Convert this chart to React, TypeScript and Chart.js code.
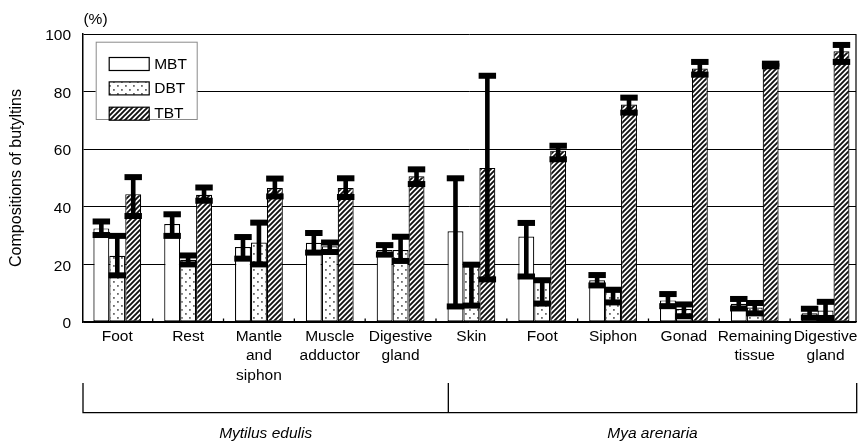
import React, { useEffect, useRef } from "react";
import { Chart, registerables } from "chart.js";

Chart.register(...registerables);

// ---------- data ----------
const categories: string[][] = [
  ["Foot"],
  ["Rest"],
  ["Mantle", "and", "siphon"],
  ["Muscle", "adductor"],
  ["Digestive", "gland"],
  ["Skin"],
  ["Foot"],
  ["Siphon"],
  ["Gonad"],
  ["Remaining", "tissue"],
  ["Digestive", "gland"],
];

const seriesNames = ["MBT", "DBT", "TBT"];

const mbt = [32.5, 34, 26, 27.5, 25, 31.5, 29.7, 14.5, 7.5, 6.3, 3];
const mbtHigh = [34.9, 37.4, 29.5, 30.9, 26.7, 49.9, 34.4, 16.3, 9.7, 8.0, 4.6];
const mbtLow = [30.2, 29.9, 22, 24.1, 23.4, 5.4, 15.8, 12.7, 5.5, 4.7, 1.5];

const dbt = [23, 21.6, 27.6, 26.3, 25, 20, 14.8, 10.6, 4.5, 5, 4];
const dbtHigh = [29.9, 23.1, 34.5, 27.6, 29.6, 19.9, 14.5, 11.2, 6.1, 6.6, 7];
const dbtLow = [16.2, 20, 20, 24.3, 21.2, 5.7, 6.4, 6.8, 2, 3, 1.4];

const tbt = [44.4, 44.2, 46.5, 46.5, 50.6, 53.5, 59.5, 75.5, 88, 89.2, 94];
const tbtHigh = [50.3, 46.7, 49.8, 49.9, 53, 85.5, 61.2, 77.9, 90.3, 89.7, 96.2];
const tbtLow = [36.8, 42.1, 43.6, 43.4, 47.9, 14.8, 56.5, 72.7, 85.9, 88.8, 90.3];

const yTickValues = [0, 20, 40, 60, 80, 100];
const groupNames = ["Mytilus edulis", "Mya arenaria"];
const groupSplitAt = 4.674; // position (in category units) of the bracket divider

const FONT = "'Liberation Sans', Arial, Helvetica, sans-serif";
const FS = 15.5;

function makeDots(): CanvasPattern | string {
  const c = document.createElement("canvas");
  c.width = 8;
  c.height = 8;
  const g = c.getContext("2d");
  if (!g) return "#fff";
  g.fillStyle = "#fff";
  g.fillRect(0, 0, 8, 8);
  g.fillStyle = "#6a6a6a";
  g.fillRect(1, 1, 1.8, 1.8);
  g.fillRect(5, 5, 1.8, 1.8);
  return g.createPattern(c, "repeat") || "#ddd";
}

function makeHatch(): CanvasPattern | string {
  const s = 5;
  const c = document.createElement("canvas");
  c.width = s;
  c.height = s;
  const g = c.getContext("2d");
  if (!g) return "#666";
  g.fillStyle = "#fff";
  g.fillRect(0, 0, s, s);
  g.strokeStyle = "#111";
  g.lineWidth = 1.9;
  g.beginPath();
  g.moveTo(-1, s + 1);
  g.lineTo(s + 1, -1);
  g.moveTo(-1, 1);
  g.lineTo(1, -1);
  g.moveTo(s - 1, s + 1);
  g.lineTo(s + 1, s - 1);
  g.stroke();
  return g.createPattern(c, "repeat") || "#666";
}

export default function App() {
  const ref = useRef<HTMLCanvasElement | null>(null);

  useEffect(() => {
    if (!ref.current) return;
    const dots = makeDots();
    const hatch = makeHatch();
    const fills = ["#ffffff", dots, hatch];
    const values = [mbt, dbt, tbt];
    const errs = [
      [mbtLow, mbtHigh],
      [dbtLow, dbtHigh],
      [tbtLow, tbtHigh],
    ];

    const decor = {
      id: "decor",
      afterDatasetsDraw(chart: any) {
        const { ctx, chartArea: ca, scales } = chart;
        const x = scales.x;
        const y = scales.y;
        ctx.save();
        // error bars
        ctx.fillStyle = "#000";
        errs.forEach((pair, d) => {
          const meta = chart.getDatasetMeta(d);
          meta.data.forEach((bar: any, i: number) => {
            const yh = y.getPixelForValue(pair[1][i]);
            const yl = y.getPixelForValue(pair[0][i]);
            const cx = bar.x;
            const w = bar.width + 1.5;
            ctx.fillRect(cx - 2.3, yh, 4.6, yl - yh);
            ctx.fillRect(cx - w / 2, yh - 3, w, 6);
            ctx.fillRect(cx - w / 2, yl - 3, w, 6);
          });
        });
        // right frame
        ctx.strokeStyle = "#000";
        ctx.lineWidth = 1.2;
        ctx.beginPath();
        ctx.moveTo(ca.right, ca.top);
        ctx.lineTo(ca.right, ca.bottom);
        ctx.stroke();
        // small category boundary ticks
        ctx.lineWidth = 1.3;
        for (let i = 0; i < categories.length - 1; i++) {
          const px = x.getPixelForValue(i + 0.5);
          ctx.beginPath();
          ctx.moveTo(px, ca.bottom);
          ctx.lineTo(px, ca.bottom - 3.5);
          ctx.stroke();
        }
        // legend
        const lx = ca.left + 12.7;
        const ly = ca.top + 7.7;
        ctx.fillStyle = "#fff";
        ctx.fillRect(lx, ly, 101, 77.3);
        ctx.strokeStyle = "#8a8a8a";
        ctx.lineWidth = 1;
        ctx.strokeRect(lx + 0.5, ly + 0.5, 101, 77.3);
        const rows = [22.3, 46.7, 72];
        seriesNames.forEach((name, k) => {
          const cy = ly + rows[k];
          ctx.fillStyle = fills[k];
          ctx.fillRect(lx + 13.5, cy - 6.5, 40, 13);
          ctx.strokeStyle = "#000";
          ctx.lineWidth = 1.2;
          ctx.strokeRect(lx + 13.5, cy - 6.5, 40, 13);
          ctx.fillStyle = "#000";
          ctx.font = `${FS}px ${FONT}`;
          ctx.textAlign = "left";
          ctx.textBaseline = "middle";
          ctx.fillText(name, lx + 58.5, cy + 0.5);
        });
        ctx.restore();
      },
      afterDraw(chart: any) {
        const { ctx, chartArea: ca, scales } = chart;
        const x = scales.x;
        ctx.save();
        ctx.fillStyle = "#000";
        ctx.font = `${FS}px ${FONT}`;
        ctx.textAlign = "center";
        ctx.textBaseline = "middle";
        ctx.fillText("(%)", ca.left + 12.5, ca.top - 14);
        // group brackets
        const top = ca.bottom + 61;
        const bot = ca.bottom + 90.7;
        const mid = x.getPixelForValue(groupSplitAt);
        const right = ca.right + 0.7;
        ctx.strokeStyle = "#000";
        ctx.lineWidth = 1.3;
        ctx.beginPath();
        ctx.moveTo(ca.left, top);
        ctx.lineTo(ca.left, bot);
        ctx.lineTo(right, bot);
        ctx.lineTo(right, top);
        ctx.moveTo(mid, top);
        ctx.lineTo(mid, bot);
        ctx.stroke();
        ctx.font = `italic ${FS}px ${FONT}`;
        ctx.fillText(groupNames[0], (ca.left + mid) / 2, ca.bottom + 111.3);
        ctx.fillText(groupNames[1], (mid + right) / 2, ca.bottom + 111.3);
        ctx.restore();
      },
    };

    const chart = new Chart(ref.current, {
      type: "bar",
      data: {
        datasets: values.map((vals, d) => ({
          label: seriesNames[d],
          data: vals.map((v, i) => ({ x: i, y: v })),
          backgroundColor: fills[d] as any,
          borderColor: "#000",
          borderWidth: 1.2,
          borderSkipped: false,
          categoryPercentage: 0.675,
          barPercentage: 1,
        })),
      },
      options: {
        responsive: false,
        animation: false,
        devicePixelRatio: 1,
        layout: { padding: { left: 0, right: 9, top: 34, bottom: 0 } },
        plugins: {
          legend: { display: false },
          tooltip: { enabled: false },
        },
        scales: {
          x: {
            type: "linear",
            min: -0.484,
            max: 10.43,
            offset: false,
            grid: { display: false, drawTicks: false },
            border: { display: true, color: "#000", width: 1.5 },
            ticks: {
              stepSize: 1,
              autoSkip: false,
              includeBounds: false,
              maxRotation: 0,
              minRotation: 0,
              padding: 5,
              color: "#000",
              font: { family: FONT, size: FS, lineHeight: 1.245 },
              callback: (v: any) => {
                const r = Math.round(Number(v));
                return Math.abs(r - Number(v)) < 1e-6 && categories[r] ? categories[r] : "";
              },
            },
            afterFit: (s: any) => {
              s.height = 120;
            },
          },
          y: {
            min: 0,
            max: 100,
            grid: { color: "#000", lineWidth: 1, drawTicks: false },
            border: { display: true, color: "#000", width: 1.5 },
            afterBuildTicks: (s: any) => {
              s.ticks = yTickValues.map((v) => ({ value: v }));
            },
            ticks: {
              stepSize: 20,
              padding: 12,
              labelOffset: 2,
              color: "#000",
              font: { family: FONT, size: FS },
            },
            title: {
              display: true,
              text: "Compositions of butyltins",
              color: "#000",
              font: { family: FONT, size: 16 },
              padding: { top: 7, bottom: 0 },
            },
            afterFit: (s: any) => {
              s.width = 83;
            },
          },
        },
      },
      plugins: [decor],
    } as any);

    return () => chart.destroy();
  }, []);

  return (
    <div
      style={{
        position: "fixed",
        left: 0,
        top: 0,
        width: 865,
        height: 442,
        background: "#fff",
      }}
    >
      <canvas ref={ref} width={865} height={442} style={{ width: 865, height: 442, display: "block" }} />
    </div>
  );
}
